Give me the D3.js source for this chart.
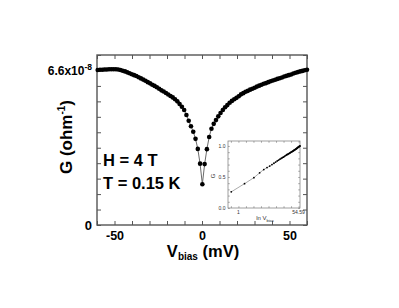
<!DOCTYPE html>
<html>
<head>
<meta charset="utf-8">
<script src="https://cdn.jsdelivr.net/npm/d3@7.9.0/dist/d3.min.js"></script>
<style>
body { margin: 0; background: #fff; }
svg { display: block; font-family: "Liberation Sans", Arial, sans-serif; font-weight: bold; }
</style>
</head>
<body>
<svg id="chart" width="399" height="308"></svg>
<script>
// bias voltage (mV) and conductance (units of 1e-8 ohm^-1)
const vbias = [
  -59.6, -58.3, -57.0, -55.7, -54.4, -53.1, -51.8, -50.5, -49.2, -47.9,
  -46.6, -45.3, -44.0, -42.7, -41.4, -40.1, -38.8, -37.5, -36.2, -34.9,
  -33.6, -32.3, -31.0, -29.7, -28.4, -27.1, -25.8, -24.5, -23.2, -21.9,
  -20.6, -19.3, -18.0, -16.7, -15.4, -14.1, -12.8, -11.5, -10.2, -8.9,
  -7.6, -6.3, -5.0, -3.7, -2.4, -1.1, 0.2,
  1.5, 2.8, 4.1, 5.4, 6.7, 8.0, 9.3, 10.6, 11.9, 13.2,
  14.5, 15.8, 17.1, 18.4, 19.7, 21.0, 22.3, 23.6, 24.9, 26.2,
  27.5, 28.8, 30.1, 31.4, 32.7, 34.0, 35.3, 36.6, 37.9, 39.2,
  40.5, 41.8, 43.1, 44.4, 45.7, 47.0, 48.3, 49.6, 50.9, 52.2,
  53.5, 54.8, 56.1, 57.4, 58.7, 60.0
];
const gMain = [
  6.62, 6.63, 6.63, 6.64, 6.64, 6.65, 6.65, 6.65, 6.65, 6.64,
  6.62, 6.59, 6.56, 6.52, 6.48, 6.44, 6.40, 6.36, 6.31, 6.26,
  6.21, 6.16, 6.10, 6.05, 5.99, 5.94, 5.88, 5.82, 5.75, 5.70,
  5.64, 5.57, 5.51, 5.45, 5.37, 5.28, 5.17, 5.05, 4.91, 4.70,
  4.45, 4.22, 3.98, 3.68, 3.25, 2.62, 1.74,
  2.60, 3.24, 3.76, 4.11, 4.32, 4.48, 4.64, 4.78, 4.91, 5.03,
  5.12, 5.22, 5.30, 5.37, 5.43, 5.50, 5.58, 5.63, 5.69, 5.73,
  5.78, 5.82, 5.86, 5.91, 5.95, 5.99, 6.03, 6.06, 6.10, 6.14,
  6.17, 6.20, 6.24, 6.27, 6.30, 6.34, 6.37, 6.40, 6.43, 6.47,
  6.50, 6.53, 6.56, 6.58, 6.61, 6.63
];
const xTickLabels = [-50, 0, 50];
const yTopLabel = 6.6;

// inset: normalized G vs ln V (positive bias branch), first plotted point read separately
const insetFirstV = 0.62;
const insetFirstG = 0.26;
const insetXLabels = [1, 54.59];
const insetYLabels = [0, 0.5, 1.0];

const svg = d3.select('#chart');
const frame = '#555';

const x = d3.scaleLinear().domain([-60, 60]).range([97, 307]);
const y = d3.scaleLinear().domain([0, 7.26]).range([225, 55]);

const xt = d3.range(-60, 61, 10);
const yt = d3.range(0, 12).map(i => +(i * 0.66).toFixed(2));

function styleAxis(g) {
  g.selectAll('path').remove();
  g.selectAll('line').attr('stroke', frame).attr('stroke-width', 1);
}

svg.append('g').attr('transform', 'translate(0,225)')
  .call(d3.axisBottom(x).tickValues(xt).tickSize(-4).tickPadding(6)
    .tickFormat(d => xTickLabels.includes(d) ? d : ''))
  .call(styleAxis)
  .call(g => g.selectAll('text').attr('fill', '#000').attr('font-size', 12.5)
    .attr('font-family', '"Liberation Sans", Arial, sans-serif').attr('font-weight', 'bold'));
svg.append('g').attr('transform', 'translate(0,55)')
  .call(d3.axisTop(x).tickValues(xt).tickSize(-4).tickFormat(''))
  .call(styleAxis);
svg.append('g').attr('transform', 'translate(97,0)')
  .call(d3.axisLeft(y).tickValues(yt).tickSize(-4).tickFormat(''))
  .call(styleAxis);
svg.append('g').attr('transform', 'translate(307,0)')
  .call(d3.axisRight(y).tickValues(yt).tickSize(-4).tickFormat(''))
  .call(styleAxis);

svg.append('rect')
  .attr('x', x(-60)).attr('y', y(7.26))
  .attr('width', x(60) - x(-60)).attr('height', y(0) - y(7.26))
  .attr('fill', 'none').attr('stroke', frame).attr('stroke-width', 1.4);

// y labels
svg.append('text').attr('x', 92).attr('y', y(0) + 4.5)
  .attr('text-anchor', 'end').attr('font-size', 13).text('0');
const topLab = svg.append('text').attr('x', 92).attr('y', y(yTopLabel) + 4.5)
  .attr('text-anchor', 'end').attr('font-size', 12);
topLab.append('tspan').text('6.6x10');
topLab.append('tspan').attr('font-size', 8.5).attr('dy', -5).text('-8');

// axis titles
const xl = svg.append('text').attr('x', 203).attr('y', 257)
  .attr('text-anchor', 'middle').attr('font-size', 16.5);
xl.append('tspan').text('V');
xl.append('tspan').attr('font-size', 10).attr('dy', 3).text('bias');
xl.append('tspan').attr('dy', -3).text(' (mV)');

const yl = svg.append('text').attr('transform', 'translate(72,137) rotate(-90)')
  .attr('text-anchor', 'middle').attr('font-size', 17);
yl.append('tspan').text('G (ohm');
yl.append('tspan').attr('font-size', 10).attr('dy', -7).text('-1');
yl.append('tspan').attr('dy', 7).text(')');

// annotations
svg.append('text').attr('x', 103).attr('y', 166).attr('font-size', 16.5).text('H = 4 T');
svg.append('text').attr('x', 103).attr('y', 188.5).attr('font-size', 16.5).text('T = 0.15 K');

// main data
const pts = vbias.map((v, i) => ({ v, g: gMain[i] }));
svg.append('path')
  .attr('d', d3.line().x(d => x(d.v)).y(d => y(d.g))(pts))
  .attr('fill', 'none').attr('stroke', '#444').attr('stroke-width', 0.8);
svg.append('g').selectAll('circle').data(pts).join('circle')
  .attr('cx', d => x(d.v)).attr('cy', d => y(d.g)).attr('r', 2.3).attr('fill', '#000');

// inset
const xi = d3.scaleLog().domain([0.5, 60]).range([228, 300]);
const yi = d3.scaleLinear().domain([0, 1.08]).range([208, 141]);
const gEnd = gMain[gMain.length - 1];
const inset = [{ v: insetFirstV, g: insetFirstG }]
  .concat(pts.filter(d => d.v > 0.5).map(d => ({ v: d.v, g: d.g / gEnd })));

svg.append('rect').attr('x', 228).attr('y', 141).attr('width', 72).attr('height', 67)
  .attr('fill', '#fff');

const ixt = d3.range(-1, 9).map(k => Math.exp(k / 2)).filter(v => v >= 0.5 && v <= 60);
const iyt = d3.range(0, 11).map(k => k / 10);
const thin = g => { g.selectAll('path').remove(); g.selectAll('line').attr('stroke', '#777').attr('stroke-width', 0.6); };

svg.append('g').attr('transform', 'translate(0,208)')
  .call(d3.axisBottom(xi).tickValues(ixt).tickSize(-1.8).tickFormat('')).call(thin);
svg.append('g').attr('transform', 'translate(0,141)')
  .call(d3.axisTop(xi).tickValues(ixt).tickSize(-1.8).tickFormat('')).call(thin);
svg.append('g').attr('transform', 'translate(228,0)')
  .call(d3.axisLeft(yi).tickValues(iyt).tickSize(-1.8).tickFormat('')).call(thin);
svg.append('g').attr('transform', 'translate(300,0)')
  .call(d3.axisRight(yi).tickValues(iyt).tickSize(-1.8).tickFormat('')).call(thin);
svg.append('rect').attr('x', 228).attr('y', 141).attr('width', 72).attr('height', 67)
  .attr('fill', 'none').attr('stroke', '#777').attr('stroke-width', 0.7);

svg.append('g').selectAll('text').data(insetYLabels).join('text')
  .attr('x', 225.5).attr('y', d => yi(d) + 1.8).attr('text-anchor', 'end')
  .attr('font-size', 5).attr('font-weight', 'normal').attr('fill', '#333')
  .text(d => d.toFixed(1));
svg.append('g').selectAll('text').data(insetXLabels).join('text')
  .attr('x', d => xi(Math.round(Math.log(d)) === 4 ? Math.exp(4) : d)).attr('y', 214)
  .attr('text-anchor', 'middle')
  .attr('font-size', 5).attr('font-weight', 'normal').attr('fill', '#333')
  .text(d => d);
svg.append('text').attr('transform', 'translate(215,176) rotate(-90)')
  .attr('text-anchor', 'middle').attr('font-size', 6).attr('font-weight', 'normal')
  .attr('fill', '#333').text('G');
const il = svg.append('text').attr('x', 265).attr('y', 220)
  .attr('text-anchor', 'middle').attr('font-size', 6).attr('font-weight', 'normal').attr('fill', '#333');
il.append('tspan').text('ln V');
il.append('tspan').attr('font-size', 4).attr('dy', 1.5).text('bias');

svg.append('path')
  .attr('d', d3.line().x(d => xi(d.v)).y(d => yi(d.g))(inset))
  .attr('fill', 'none').attr('stroke', '#555').attr('stroke-width', 0.5);
svg.append('g').selectAll('circle').data(inset).join('circle')
  .attr('cx', d => xi(d.v)).attr('cy', d => yi(d.g)).attr('r', 0.9).attr('fill', '#000');
</script>
</body>
</html>
